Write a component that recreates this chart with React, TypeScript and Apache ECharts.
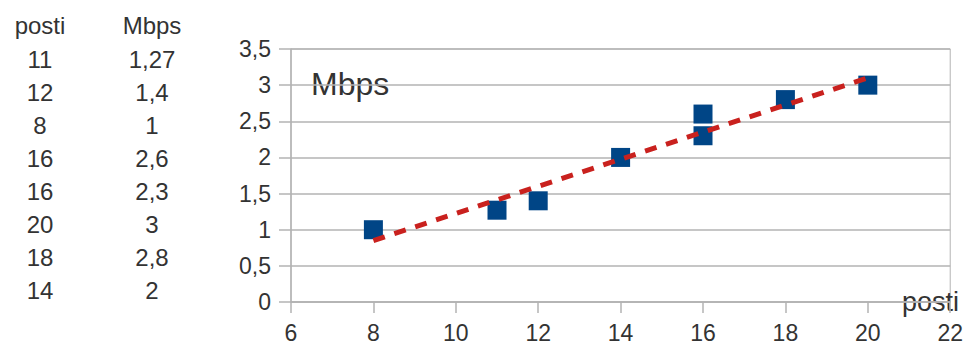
import React, { useEffect, useRef } from "react";
import * as echarts from "echarts";

const posti: number[] = [11, 12, 8, 16, 16, 20, 18, 14];
const mbps: number[] = [1.27, 1.4, 1, 2.6, 2.3, 3, 2.8, 2];
const trendX: number[] = [8, 20];
const trendY: number[] = [0.85, 3.1];
const headers: string[] = ["posti", "Mbps"];

const fmt = (v: number) => String(v).replace(".", ",");
const FONT = "'Liberation Sans', Arial, sans-serif";
const TEXT = "#333333";

export default function App() {
  const ref = useRef<HTMLDivElement>(null);
  useEffect(() => {
    if (!ref.current) return;
    const chart = echarts.init(ref.current, null, { renderer: "svg" });

    const tableGraphics: any[] = [];
    const colX = [40, 152];
    headers.forEach((h, i) => {
      tableGraphics.push({
        type: "text",
        x: colX[i],
        y: 25,
        style: { text: h, font: `24px ${FONT}`, fill: TEXT, align: "center", verticalAlign: "middle" },
      });
    });
    posti.forEach((p, r) => {
      tableGraphics.push({
        type: "text",
        x: colX[0],
        y: 59 + 33 * r,
        style: { text: String(p), font: `24px ${FONT}`, fill: TEXT, align: "center", verticalAlign: "middle" },
      });
      tableGraphics.push({
        type: "text",
        x: colX[1],
        y: 59 + 33 * r,
        style: { text: fmt(mbps[r]), font: `24px ${FONT}`, fill: TEXT, align: "center", verticalAlign: "middle" },
      });
    });

    chart.setOption({
      animation: false,
      backgroundColor: "#ffffff",
      textStyle: { fontFamily: FONT },
      grid: {
        left: 291,
        right: 15,
        top: 49,
        bottom: 40,
        show: true,
        borderColor: "#b3b3b3",
        borderWidth: 1,
      },
      xAxis: {
        type: "value",
        min: 6,
        max: 22,
        interval: 2,
        axisLine: { show: true, lineStyle: { color: "#b3b3b3", width: 1.5 } },
        axisTick: { show: true, length: 11, lineStyle: { color: "#b3b3b3", width: 1.5 } },
        splitLine: { show: false },
        axisLabel: { fontSize: 23, color: TEXT, margin: 19, fontFamily: FONT },
      },
      yAxis: {
        type: "value",
        min: 0,
        max: 3.5,
        interval: 0.5,
        axisLine: { show: true, lineStyle: { color: "#b3b3b3", width: 1.5 } },
        axisTick: { show: true, length: 12, lineStyle: { color: "#b3b3b3", width: 1.5 } },
        splitLine: { show: true, lineStyle: { color: "#b3b3b3", width: 1.5 } },
        axisLabel: { fontSize: 23, color: TEXT, margin: 20, fontFamily: FONT, formatter: (v: number) => fmt(v) },
      },
      series: [
        {
          type: "scatter",
          data: posti.map((p, i) => [p, mbps[i]]),
          symbol: "rect",
          symbolSize: 19,
          itemStyle: { color: "#004586", opacity: 1 },
          z: 2,
        },
        {
          type: "line",
          data: trendX.map((x, i) => [x, trendY[i]]),
          showSymbol: false,
          symbol: "none",
          lineStyle: { color: "#c9211e", width: 5, type: [12, 10] },
          z: 3,
        },
      ],
      graphic: [
        ...tableGraphics,
        {
          type: "text",
          x: 311,
          y: 84,
          style: { text: "Mbps", font: `32px ${FONT}`, fill: TEXT, align: "left", verticalAlign: "middle" },
        },
        {
          type: "text",
          x: 902,
          y: 302,
          style: { text: "posti", font: `27px ${FONT}`, fill: TEXT, align: "left", verticalAlign: "middle" },
        },
      ],
    });
    return () => chart.dispose();
  }, []);
  return (
    <div
      ref={ref}
      style={{ position: "absolute", left: 0, top: 0, width: 966, height: 344 }}
    />
  );
}
